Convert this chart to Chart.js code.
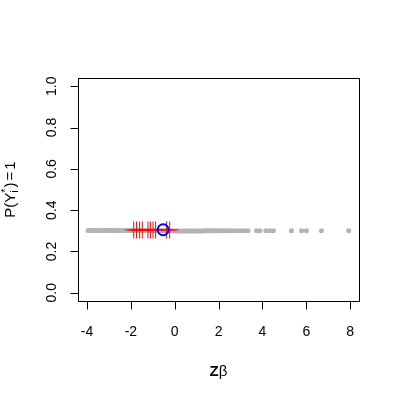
<!DOCTYPE html>
<html>
<head>
<meta charset="utf-8">
<script src="https://cdn.jsdelivr.net/npm/chart.js@4"></script>
<style>
  html, body { margin: 0; padding: 0; background: #fff; }
  #wrap { width: 400px; height: 400px; }
</style>
</head>
<body>
<div id="wrap"><canvas id="chart" width="400" height="400"></canvas></div>
<script>
// values
const grayX = [
  -3.95, -3.87, -3.8, -3.7, -3.63, -3.53, -3.46, -3.36, -3.29, -3.2,
  -3.1, -3.04, -2.94, -2.87, -2.77, -2.71, -2.6, -2.54, -2.43, -2.37,
  -2.27, -2.21, -2.1, -2.04, -1.94, -1.88, -1.77, -1.71, -1.61, -1.54,
  -1.44, -1.38, -1.27, -1.21, -1.11, -1.04, -0.94, -0.88, -0.77, -0.7,
  -0.61, -0.54, -0.44, -0.37, -0.27, -0.21, -0.1, -0.04, 0.06, 0.13,
  0.23, 0.29, 0.4, 0.46, 0.56, 0.63, 0.73, 0.79, 0.9, 0.96,
  1.06, 1.13, 1.23, 1.3, 1.39, 1.47, 1.56, 1.64, 1.73, 1.81,
  1.9, 2.0, 2.09, 2.2, 2.31, 2.43,
  2.59, 2.74, 2.89, 3.04, 3.19, 3.34, 3.73, 3.88, 4.15, 4.33,
  4.5, 5.32, 5.78, 6.0, 6.69, 7.93
];
const grayY = [
  0.301, 0.301, 0.301, 0.301, 0.301, 0.301, 0.301, 0.301, 0.301, 0.301,
  0.301, 0.301, 0.301, 0.301, 0.301, 0.301, 0.302, 0.302, 0.302, 0.302,
  0.302, 0.302, 0.302, 0.302, 0.302, 0.302, 0.302, 0.302, 0.302, 0.302,
  0.302, 0.302, 0.302, 0.302, 0.302, 0.302, 0.301, 0.301, 0.301, 0.301,
  0.301, 0.3, 0.3, 0.3, 0.3, 0.3, 0.3, 0.299, 0.299, 0.299,
  0.299, 0.299, 0.299, 0.299, 0.299, 0.299, 0.299, 0.299, 0.299, 0.299,
  0.299, 0.299, 0.299, 0.299, 0.3, 0.3, 0.3, 0.3, 0.3, 0.3,
  0.3, 0.3, 0.3, 0.3, 0.3, 0.3,
  0.3, 0.3, 0.3, 0.3, 0.3, 0.3, 0.3, 0.3, 0.3, 0.3,
  0.3, 0.3, 0.3, 0.3, 0.3, 0.3
];
const redX = [-1.87, -1.74, -1.6, -1.48, -1.22, -1.11, -0.99, -0.87, -0.38, -0.23];
const redY = [0.304, 0.304, 0.304, 0.304, 0.304, 0.304, 0.304, 0.304, 0.304, 0.304];
const blueX = [-0.53];
const blueY = [0.305];

const xTicks = [-4, -2, 0, 2, 4, 6, 8];
const yTicks = [0, 0.2, 0.4, 0.6, 0.8, 1.0];
const xRange = [-4.41, 8.4];
const yRange = [-0.04, 1.04];

const FONT = "Liberation Sans, Arial, Helvetica, sans-serif";

function toPoints(xs, ys) {
  return xs.map((x, i) => ({ x: x, y: ys[i] }));
}

// R-style box, ticks and labels, drawn from the chart's scales
const rAxes = {
  id: "rAxes",
  afterDraw(chart) {
    const ctx = chart.ctx;
    const a = chart.chartArea;
    const xs = chart.scales.x;
    const ys = chart.scales.y;
    ctx.save();
    ctx.strokeStyle = "#000";
    ctx.lineWidth = 1;
    ctx.strokeRect(Math.round(a.left) + 0.5, Math.round(a.top) + 0.5,
      Math.round(a.right - a.left), Math.round(a.bottom - a.top));

    ctx.fillStyle = "#000";
    ctx.font = "14px " + FONT;

    // x axis
    const bx = Math.round(a.bottom) + 0.5;
    ctx.beginPath();
    ctx.moveTo(Math.round(xs.getPixelForValue(xTicks[0])) + 0.5, bx);
    ctx.lineTo(Math.round(xs.getPixelForValue(xTicks[xTicks.length - 1])) + 0.5, bx);
    xTicks.forEach((t) => {
      const px = Math.round(xs.getPixelForValue(t)) + 0.5;
      ctx.moveTo(px, bx);
      ctx.lineTo(px, bx + 8);
    });
    ctx.stroke();
    ctx.textAlign = "center";
    ctx.textBaseline = "alphabetic";
    xTicks.forEach((t) => {
      ctx.fillText(String(t), xs.getPixelForValue(t), 336);
    });

    // y axis
    const lx = Math.round(a.left) + 0.5;
    ctx.beginPath();
    ctx.moveTo(lx, Math.round(ys.getPixelForValue(yTicks[0])) + 0.5);
    ctx.lineTo(lx, Math.round(ys.getPixelForValue(yTicks[yTicks.length - 1])) + 0.5);
    yTicks.forEach((t) => {
      const py = Math.round(ys.getPixelForValue(t)) + 0.5;
      ctx.moveTo(lx, py);
      ctx.lineTo(lx - 8, py);
    });
    ctx.stroke();
    yTicks.forEach((t) => {
      ctx.save();
      ctx.translate(56, ys.getPixelForValue(t));
      ctx.rotate(-Math.PI / 2);
      ctx.fillText(t.toFixed(1), 0, 0);
      ctx.restore();
    });

    // x title: bold Z, plain beta
    const cx = (a.left + a.right) / 2;
    ctx.textAlign = "left";
    ctx.font = "bold 15px " + FONT;
    const wZ = ctx.measureText("Z").width;
    ctx.font = "15px " + FONT;
    const wB = ctx.measureText("\u03b2").width;
    let sx = cx - (wZ + wB) / 2;
    ctx.font = "bold 15px " + FONT;
    ctx.fillText("Z", sx, 376);
    ctx.font = "15px " + FONT;
    ctx.fillText("\u03b2", sx + wZ, 376);

    // y title: P(Y_i^*)=1
    ctx.save();
    ctx.translate(15, (a.top + a.bottom) / 2);
    ctx.rotate(-Math.PI / 2);
    const big = "15px " + FONT;
    const small = "11px " + FONT;
    ctx.font = big;
    const w1 = ctx.measureText("P(Y").width;
    const w2 = ctx.measureText(")").width;
    const w3 = ctx.measureText("=").width;
    const w4 = ctx.measureText("1").width;
    ctx.font = small;
    const wSub = Math.max(ctx.measureText("i").width, ctx.measureText("*").width);
    const gap = 2;
    const total = w1 + wSub + 1 + w2 + gap + w3 + gap + w4;
    let p = -total / 2;
    ctx.font = big;
    ctx.fillText("P(Y", p, 0);
    p += w1;
    ctx.font = small;
    ctx.fillText("i", p, 3);
    ctx.fillText("*", p, -6);
    p += wSub + 1;
    ctx.font = big;
    ctx.fillText(")", p, 0);
    p += w2 + gap;
    ctx.fillText("=", p, 0);
    p += w3 + gap;
    ctx.fillText("1", p, 0);
    ctx.restore();

    ctx.restore();
  }
};

new Chart(document.getElementById("chart"), {
  type: "scatter",
  data: {
    datasets: [
      {
        label: "blue",
        data: toPoints(blueX, blueY),
        pointStyle: "circle",
        pointRadius: 5.5,
        pointBorderWidth: 2,
        pointBorderColor: "#0000ff",
        pointBackgroundColor: "rgba(0,0,0,0)"
      },
      {
        label: "red",
        data: toPoints(redX, redY),
        pointStyle: "cross",
        pointRadius: 8.5,
        pointBorderWidth: 1,
        pointBorderColor: "#ff0000",
        pointBackgroundColor: "#ff0000"
      },
      {
        label: "gray",
        data: toPoints(grayX, grayY),
        pointStyle: "circle",
        pointRadius: 2.5,
        pointBorderWidth: 0,
        pointBackgroundColor: "#b3b3b3"
      }
    ]
  },
  options: {
    responsive: false,
    animation: false,
    layout: { padding: { left: 78, top: 78, right: 41, bottom: 99 } },
    plugins: { legend: { display: false }, tooltip: { enabled: false } },
    scales: {
      x: { type: "linear", display: false, min: xRange[0], max: xRange[1] },
      y: { type: "linear", display: false, min: yRange[0], max: yRange[1] }
    }
  },
  plugins: [rAxes]
});
</script>
</body>
</html>
